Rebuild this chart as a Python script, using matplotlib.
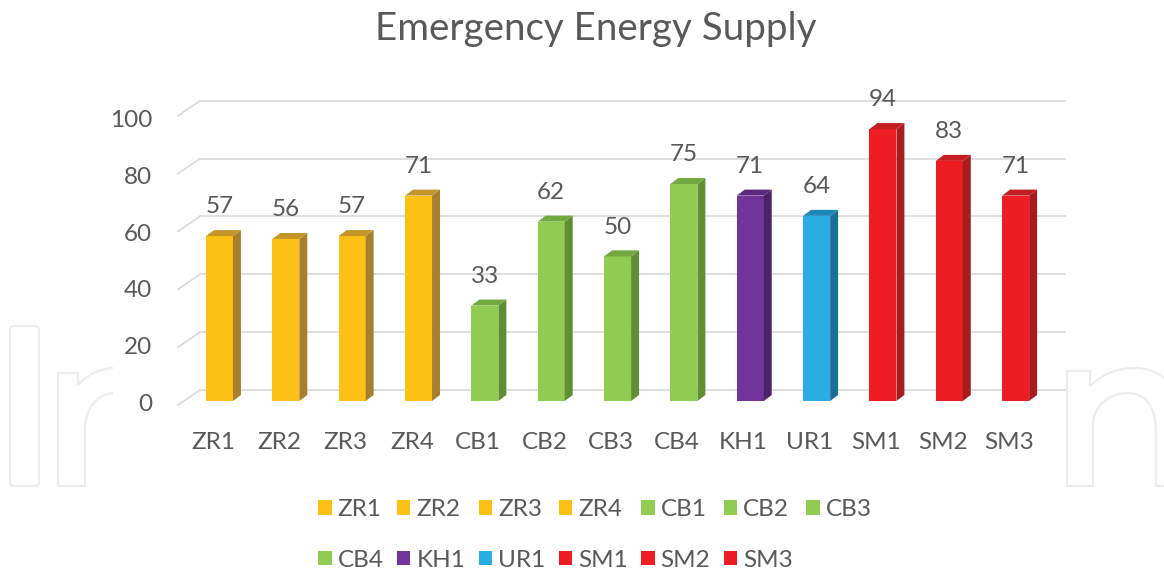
import matplotlib
matplotlib.use("Agg")
import matplotlib.pyplot as plt
from matplotlib.patches import Polygon, Patch, FancyBboxPatch, PathPatch
from matplotlib.path import Path

plt.rcParams['font.family'] = ['Lato', 'DejaVu Sans']

# data
sites = ['ZR1', 'ZR2', 'ZR3', 'ZR4', 'CB1', 'CB2', 'CB3', 'CB4',
         'KH1', 'UR1', 'SM1', 'SM2', 'SM3']
values = [57, 56, 57, 71, 33, 62, 50, 75, 71, 64, 94, 83, 71]
groups = ['ZR', 'ZR', 'ZR', 'ZR', 'CB', 'CB', 'CB', 'CB',
          'KH', 'UR', 'SM', 'SM', 'SM']
y_ticks = [0, 20, 40, 60, 80, 100]

# front / side / top colours per group
front_col = {'ZR': '#FCC114', 'CB': '#92CB52', 'KH': '#70349A',
             'UR': '#29ADE3', 'SM': '#EE1D24'}
side_col = {'ZR': '#A6802C', 'CB': '#5F8E33', 'KH': '#4B226B',
            'UR': '#1A6F9A', 'SM': '#A81C20'}
top_col = {'ZR': '#C4962A', 'CB': '#73A83E', 'KH': '#5A2880',
           'UR': '#1F86B8', 'SM': '#C41E22'}

text_col = '#595959'
grid_col = '#D9D9D9'
fs = 17.5

W, H = 1164, 569
fig = plt.figure(figsize=(W / 100, H / 100), dpi=100)
fig.patch.set_facecolor('white')

# faint watermark behind the chart
wm = fig.add_axes([0, 0, 1, 1], zorder=0)
wm.set_xlim(0, W)
wm.set_ylim(H, 0)
wm.axis('off')
wm_col = '#EDEDED'
wm.add_patch(FancyBboxPatch((10, 326), 29, 160, boxstyle='round,pad=0,rounding_size=4',
                            fill=False, ec=wm_col, lw=1.6))
r_path = Path([(113, 393), (95, 395), (85, 410), (85, 430), (85, 486), (58, 486),
               (58, 373), (78, 373), (78, 385), (88, 374), (100, 369), (113, 368)],
              [Path.MOVETO, Path.CURVE4, Path.CURVE4, Path.CURVE4, Path.LINETO,
               Path.LINETO, Path.LINETO, Path.LINETO, Path.LINETO,
               Path.CURVE4, Path.CURVE4, Path.CURVE4])
wm.add_patch(PathPatch(r_path, fill=False, ec=wm_col, lw=1.6))
n_path = Path([(1190, 486), (1156, 486), (1156, 430), (1155, 405), (1145, 393), (1127, 393),
               (1110, 393), (1093, 405), (1093, 425), (1093, 486), (1067, 486),
               (1067, 371), (1090, 371), (1090, 386), (1105, 372), (1120, 368), (1135, 368),
               (1160, 368), (1180, 385), (1185, 420)],
              [Path.MOVETO, Path.LINETO, Path.LINETO, Path.CURVE4, Path.CURVE4, Path.CURVE4,
               Path.CURVE4, Path.CURVE4, Path.CURVE4, Path.LINETO, Path.LINETO,
               Path.LINETO, Path.LINETO, Path.LINETO, Path.CURVE4, Path.CURVE4, Path.CURVE4,
               Path.CURVE4, Path.CURVE4, Path.CURVE4])
wm.add_patch(PathPatch(n_path, fill=False, ec=wm_col, lw=1.6))

# main axes, pixel box 170..1080 x 80..420
ax = fig.add_axes([170 / W, (H - 420) / H, 910 / W, 340 / H], zorder=1)
ax.set_xlim(-0.746, 12.97)
ax.set_ylim(-6.57, 110.96)
ax.patch.set_alpha(0)
for s in ax.spines.values():
    s.set_visible(False)

# 3d-style gridlines: short diagonal at the left, then back wall line
for v in y_ticks:
    ax.plot([-0.626, -0.294], [v - 1.4, v + 3.8], color=grid_col, lw=1.2, zorder=1)
    ax.plot([-0.294, 12.75], [v + 3.8, v + 3.8], color=grid_col, lw=1.2, zorder=1)

bw = 0.407   # front face width
dx = 0.12    # depth in x
dy = 2.07    # depth in y

for x, (name, v, g) in enumerate(zip(sites, values, groups)):
    ax.bar(x, v, width=bw, color=front_col[g], zorder=3, linewidth=0)
    r = x + bw / 2
    l = x - bw / 2
    ax.add_patch(Polygon([(r, 0), (r + dx, dy), (r + dx, v + dy), (r, v)],
                         closed=True, fc=side_col[g], ec='none', zorder=3))
    ax.add_patch(Polygon([(l, v), (r, v), (r + dx, v + dy), (l + dx, v + dy)],
                         closed=True, fc=top_col[g], ec='none', zorder=3))
    ax.annotate(str(v), (x, v), xytext=(0, 21), textcoords='offset points',
                ha='center', va='center', fontsize=fs, color=text_col)
    ax.text(x - 0.1, -14.2, name, ha='center', va='center',
            fontsize=fs, color=text_col, clip_on=False)

# y tick labels sit a little below their gridline
ax.set_xticks([])
ax.set_yticks([(401 - (403 - 2.85 * v)) / 2.893 for v in y_ticks])
ax.set_yticklabels([str(v) for v in y_ticks], fontsize=fs, color=text_col)
ax.tick_params(axis='y', length=0, pad=13)

fig.text(596 / W, 1 - 29 / H, 'Emergency Energy Supply', ha='center', va='center',
         fontsize=27.7, color=text_col)

# legend, row-major order in 7 columns
handles = [Patch(fc=front_col[g], ec='none') for g in groups]
order = []
for j in range(7):
    order.append(j)
    if j + 7 < len(sites):
        order.append(j + 7)
fig.legend([handles[i] for i in order], [sites[i] for i in order],
           ncol=7, loc='center', bbox_to_anchor=(595 / W, 1 - 535 / H),
           frameon=False, fontsize=fs, labelcolor=text_col,
           handlelength=0.55, handleheight=0.55, handletextpad=0.25,
           columnspacing=0.55, labelspacing=1.2)

fig.savefig('out.png', dpi=100, facecolor='white')
